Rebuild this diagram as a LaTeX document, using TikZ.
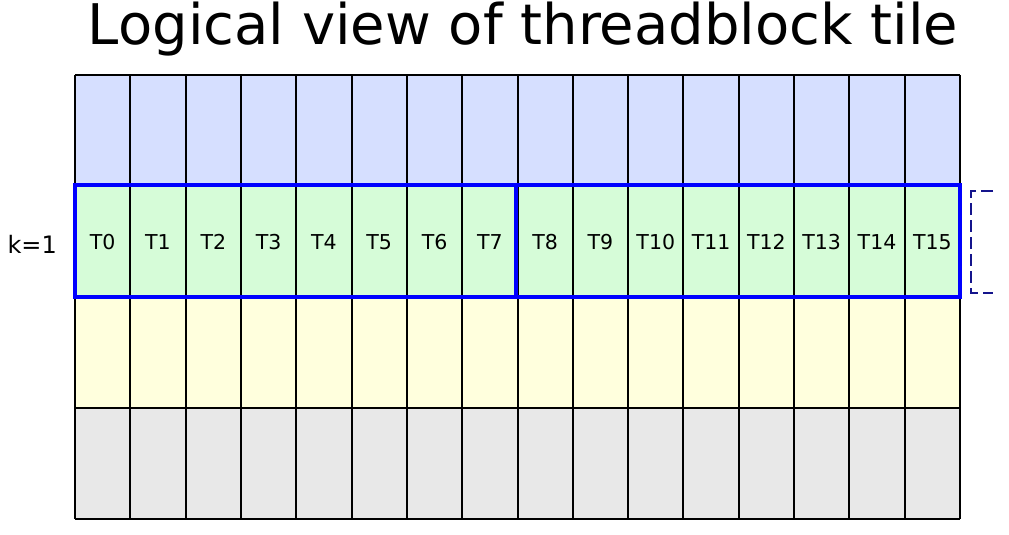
\documentclass[tikz,border=0pt]{standalone}
\usepackage{fontspec}
\setmainfont{DejaVu Sans}
\begin{document}
\begin{tikzpicture}[x=1pt,y=-1pt,
  grid/.style={line width=1.4pt},
  grp/.style={draw={rgb,255:red,0;green,0;blue,255},line width=4pt},
  lbl/.style={font=\fontsize{20.5}{20.5}\selectfont,anchor=base},
  brk/.style={draw={rgb,255:red,20;green,20;blue,140},line width=2pt,dash pattern=on 12pt off 5pt}]
\useasboundingbox (0,0) rectangle (1009,535);
\definecolor{rowA}{RGB}{214,223,255}
\definecolor{rowB}{RGB}{214,252,216}
\definecolor{rowC}{RGB}{255,255,221}
\definecolor{rowD}{RGB}{232,232,232}
\node[font=\fontsize{56}{56}\selectfont,anchor=base] (title) at (523,45) {Logical view of threadblock tile};
\foreach \r/\c in {75/rowA,185/rowB,297/rowC,408/rowD}{
  \pgfmathsetmacro{\yb}{\r+111}
  \path[fill=\c] (75,\r) rectangle (960,\yb);
}
\foreach \j in {0,...,16}{
  \pgfmathsetmacro{\xa}{round(75+\j*55.3125)}
  \draw[grid] (\xa,75) -- (\xa,519);
}
\foreach \y in {75,185,297,408,519}{
  \draw[grid] (75,\y) -- (960,\y);
}
\foreach \j in {0,...,15}{
  \pgfmathsetmacro{\xc}{75+(\j+0.5)*55.3125}
  \node[lbl] (t\j) at (\xc,249) {T\j};
}
\draw[grp] (75,185) rectangle (516,297);
\draw[grp] (516,185) rectangle (960,297);
\node[lbl,anchor=base west,font=\fontsize{24}{24}\selectfont] (k) at (4,253) {k=1};
\coordinate (b1) at (993,191);
\coordinate (b2) at (971,191);
\coordinate (b3) at (971,293);
\coordinate (b4) at (993,293);
\draw[brk] (b1) -- (b2) -- (b3) -- (b4);
\end{tikzpicture}
\end{document}
